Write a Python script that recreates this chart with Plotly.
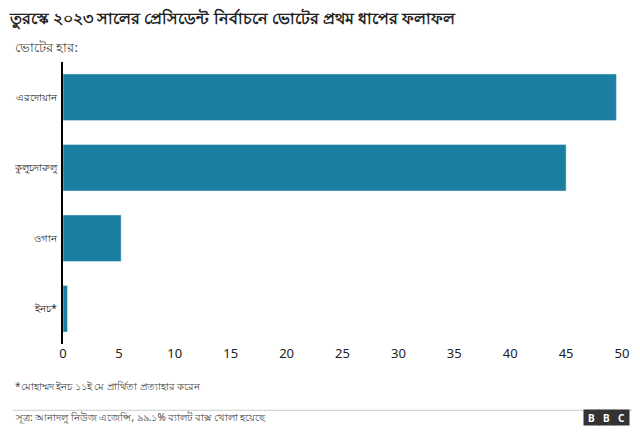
import plotly.graph_objects as go

candidates = ["এরদোয়ান", "কুলুচদারুলু", "ওগান", "ইনচ*"]
votes = [49.5, 45.0, 5.2, 0.4]
ticks = [0, 5, 10, 15, 20, 25, 30, 35, 40, 45, 50]

fig = go.Figure(go.Bar(x=votes, y=candidates, orientation="h", marker_color="#1a7fa0", width=0.66))
fig.update_layout(
    width=640, height=436, plot_bgcolor="white", paper_bgcolor="white",
    margin=dict(l=55, r=26, t=54, b=100),
    font=dict(family="Noto Sans, DejaVu Sans", color="#222", size=13),
    showlegend=False,
    xaxis=dict(range=[0, 50], tickvals=ticks, showgrid=False, zeroline=False, ticks="", tickfont=dict(size=13), automargin=False),
    yaxis=dict(autorange="reversed", showline=True, linecolor="black", linewidth=1.5, tickfont=dict(size=10), ticks="", ticksuffix=" ", automargin=False),
    title=dict(text="<b>তুরস্কে ২০২৩ সালের প্রেসিডেন্ট নির্বাচনে ভোটের প্রথম ধাপের ফলাফল</b>", x=0.003, xanchor="left", y=0.99, yanchor="top", font=dict(size=16)),
)
fig.add_annotation(text="ভোটের হার:", xref="paper", yref="paper", x=-0.09, y=1.015, xanchor="left", yanchor="bottom", showarrow=False, font=dict(size=13, color="#444"))
fig.add_annotation(text="*মোহাম্মদ ইনচ ১১ই মে প্রার্থিতা প্রত্যাহার করেন", xref="paper", yref="paper", x=-0.09, y=-0.18, xanchor="left", showarrow=False, font=dict(size=10, color="#444"))
fig.add_annotation(text="সূত্র: আনাদলু নিউজ এজেন্সি, ৯৯.১% ব্যালট বাক্স খোলা হয়েছে", xref="paper", yref="paper", x=-0.09, y=-0.29, xanchor="left", showarrow=False, font=dict(size=10, color="#444"))
fig.add_shape(type="line", xref="paper", yref="paper", x0=-0.09, x1=1.04, y0=-0.235, y1=-0.235, line=dict(color="#ccc", width=1))
for i, ch in enumerate("BBC"):
    fig.add_annotation(text=f"<b>{ch}</b>", xref="paper", yref="paper", x=0.96 + i*0.027, y=-0.29, showarrow=False,
                       font=dict(size=10, color="white"), bgcolor="#333", width=13, height=13)
fig.write_html("out.html")
